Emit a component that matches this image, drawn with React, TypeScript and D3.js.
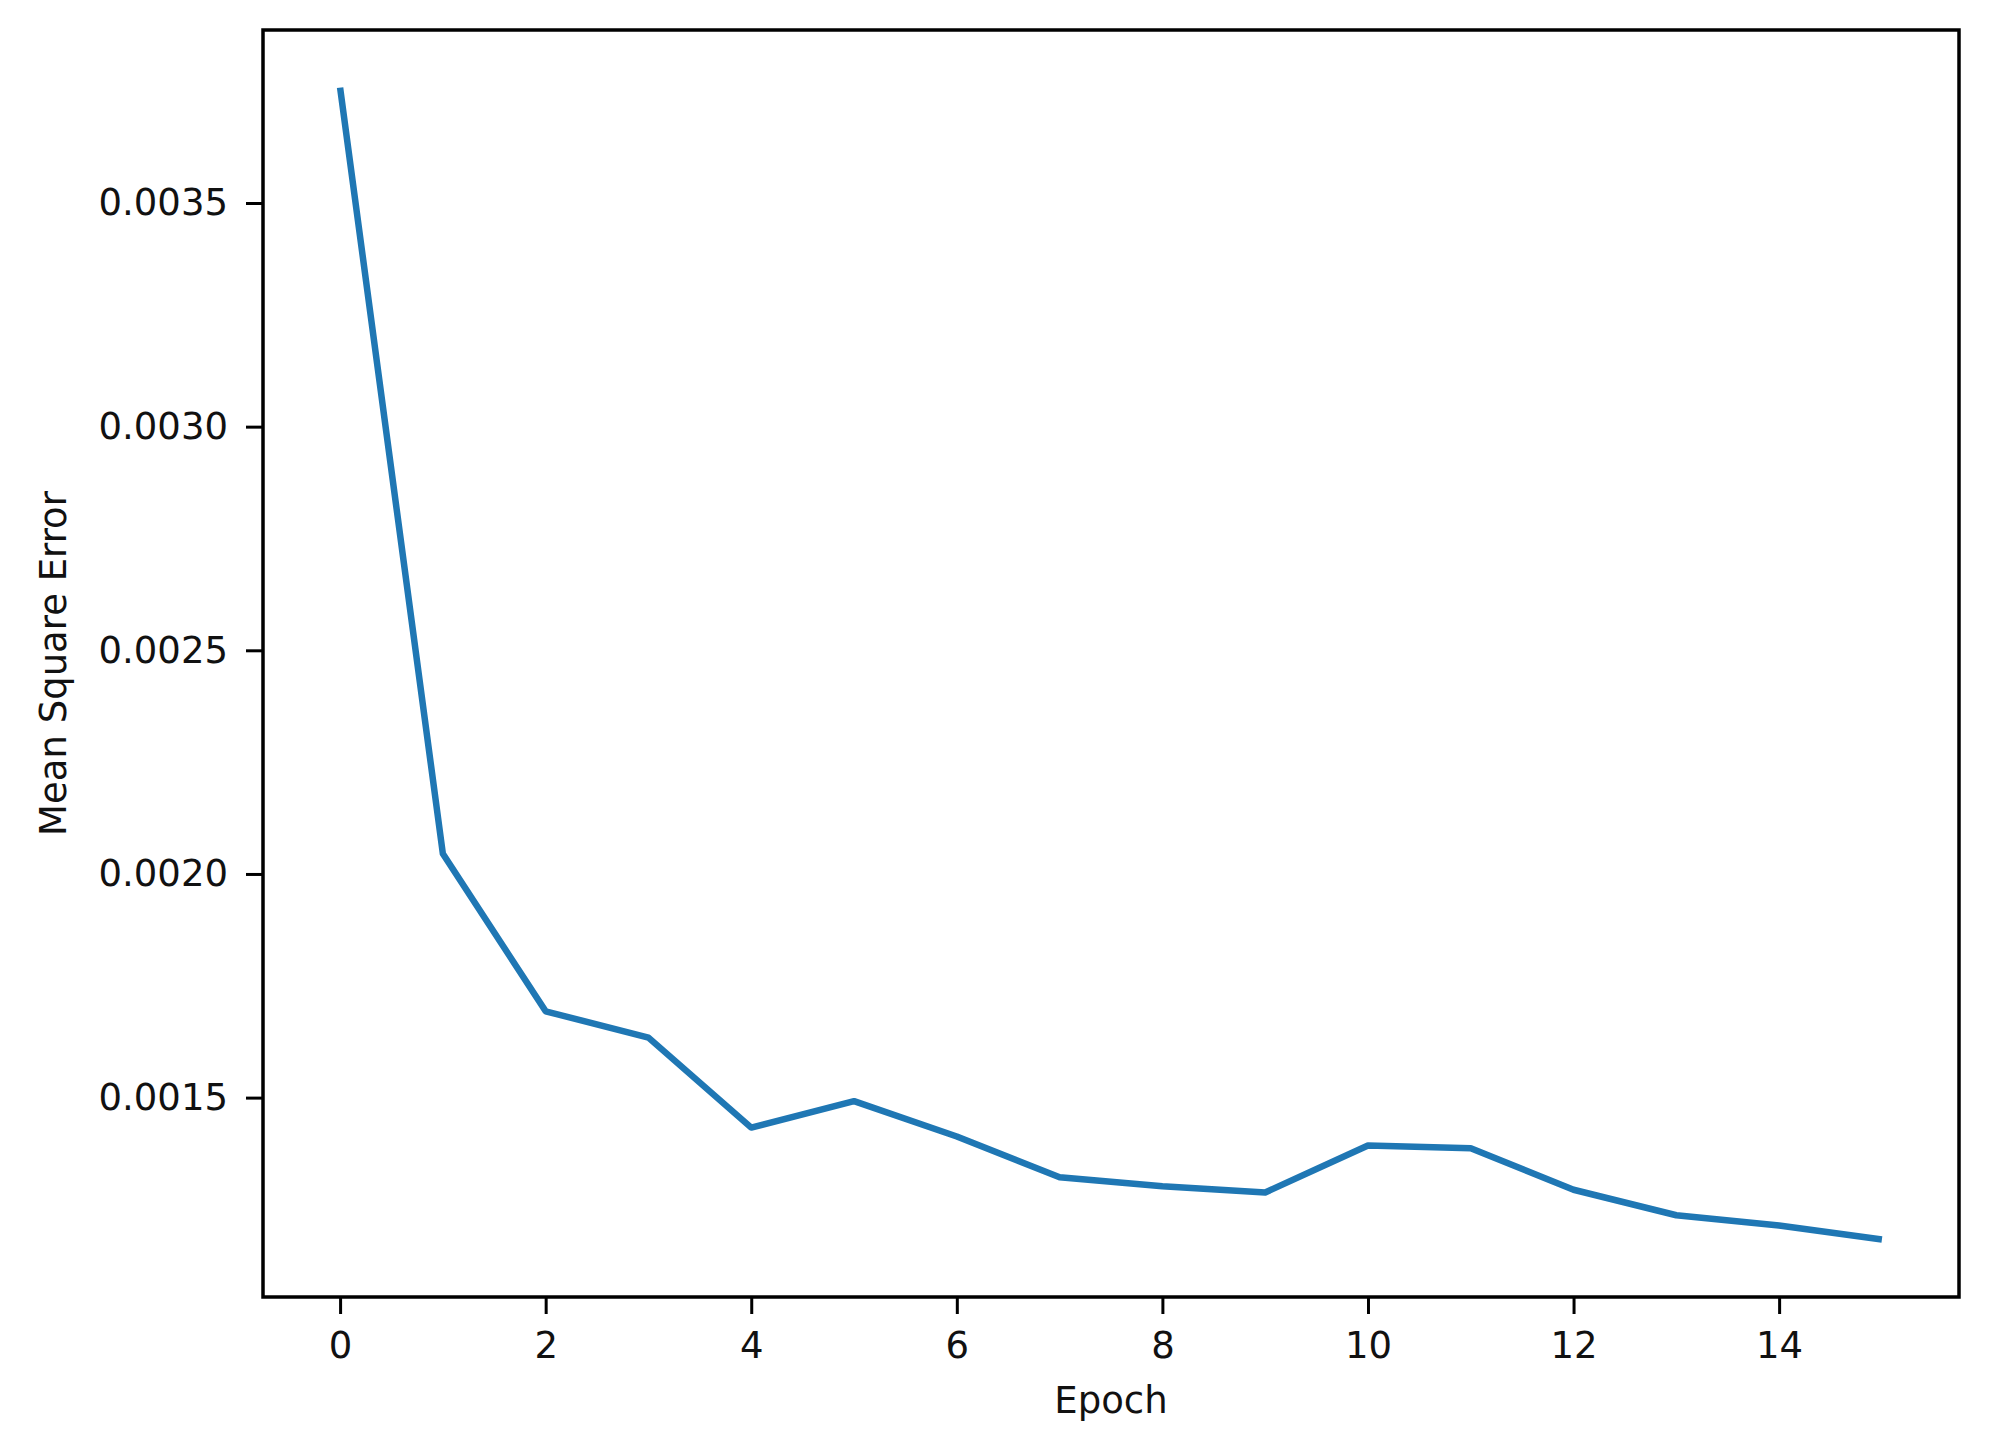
import { useEffect, useRef } from "react";
import * as d3 from "d3";

// Epoch / MSE values
const epochs = [0, 1, 2, 3, 4, 5, 6, 7, 8, 9, 10, 11, 12, 13, 14, 15];
const mse = [
  0.003758, 0.002045, 0.001693, 0.001634, 0.001433, 0.001492, 0.001413,
  0.001322, 0.001302, 0.001288, 0.001393, 0.001387, 0.001294, 0.001237,
  0.001214, 0.001183,
];
const xTicks = [0, 2, 4, 6, 8, 10, 12, 14];
const yTicks = [0.0015, 0.002, 0.0025, 0.003, 0.0035];

const width = 1990;
const height = 1449;
const margin = { top: 30, right: 31, bottom: 152, left: 263 };

const LossChart = () => {
  const svgRef = useRef<SVGSVGElement>(null);

  useEffect(() => {
    const svg = d3.select(svgRef.current);
    svg.selectAll("*").remove();

    const boundsWidth = width - margin.left - margin.right;
    const boundsHeight = height - margin.top - margin.bottom;

    // matplotlib style 5% margins
    const xPad = (d3.max(epochs)! - d3.min(epochs)!) * 0.05;
    const yMin = d3.min(mse)!;
    const yMax = d3.max(mse)!;
    const yPad = (yMax - yMin) * 0.05;

    const xScale = d3
      .scaleLinear()
      .domain([d3.min(epochs)! - xPad, d3.max(epochs)! + xPad])
      .range([0, boundsWidth]);

    const yScale = d3
      .scaleLinear()
      .domain([yMin - yPad, yMax + yPad])
      .range([boundsHeight, 0]);

    const g = svg
      .append("g")
      .attr("transform", `translate(${margin.left},${margin.top})`);

    const font = "'DejaVu Sans', sans-serif";

    // x axis
    const xAxis = g
      .append("g")
      .attr("transform", `translate(0,${boundsHeight})`)
      .call(
        d3
          .axisBottom(xScale)
          .tickValues(xTicks)
          .tickFormat(d3.format("d"))
          .tickSize(17)
          .tickPadding(18)
      );
    xAxis.select(".domain").remove();
    xAxis.selectAll("line").attr("stroke", "#000").attr("stroke-width", 3);
    xAxis
      .selectAll("text")
      .attr("font-family", font)
      .attr("font-size", 37)
      .attr("fill", "#111");

    // y axis
    const yAxis = g.append("g").call(
      d3
        .axisLeft(yScale)
        .tickValues(yTicks)
        .tickFormat(d3.format(".4f"))
        .tickSize(17)
        .tickPadding(18)
    );
    yAxis.select(".domain").remove();
    yAxis.selectAll("line").attr("stroke", "#000").attr("stroke-width", 3);
    yAxis
      .selectAll("text")
      .attr("font-family", font)
      .attr("font-size", 37)
      .attr("fill", "#111");

    // line
    const line = d3
      .line<number>()
      .x((_, i) => xScale(epochs[i]))
      .y((d) => yScale(d));

    g.append("path")
      .datum(mse)
      .attr("fill", "none")
      .attr("stroke", "#1f77b4")
      .attr("stroke-width", 6.5)
      .attr("stroke-linejoin", "round")
      .attr("d", line);

    // frame
    g.append("rect")
      .attr("width", boundsWidth)
      .attr("height", boundsHeight)
      .attr("fill", "none")
      .attr("stroke", "#000")
      .attr("stroke-width", 3.5);

    // axis labels
    svg
      .append("text")
      .attr("x", margin.left + boundsWidth / 2)
      .attr("y", 1413)
      .attr("text-anchor", "middle")
      .attr("font-family", font)
      .attr("font-size", 37)
      .attr("fill", "#111")
      .text("Epoch");

    svg
      .append("text")
      .attr("transform", `translate(66,${margin.top + boundsHeight / 2}) rotate(-90)`)
      .attr("text-anchor", "middle")
      .attr("font-family", font)
      .attr("font-size", 37)
      .attr("fill", "#111")
      .text("Mean Square Error");
  }, []);

  return (
    <svg
      ref={svgRef}
      width={width}
      height={height}
      style={{ position: "absolute", left: 0, top: 0, background: "#fff" }}
    ></svg>
  );
};

export default function App() {
  return <LossChart />;
}
